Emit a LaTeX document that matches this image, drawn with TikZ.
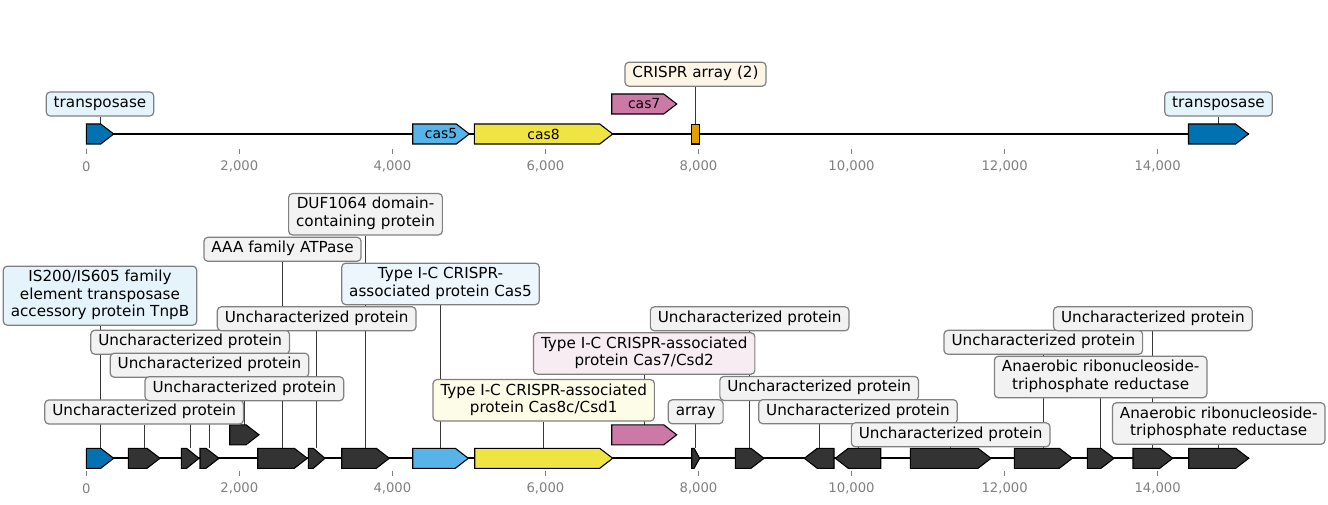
\documentclass[tikz,border=0pt]{standalone}
\usepackage{fontspec}
\setmainfont{DejaVu Sans}

\definecolor{cblue}{HTML}{0072B2}
\definecolor{csky}{HTML}{56B4E9}
\definecolor{cyellow}{HTML}{F0E442}
\definecolor{cpink}{HTML}{CC79A7}
\definecolor{corange}{HTML}{E69F00}
\definecolor{cdark}{HTML}{333333}
\definecolor{fblue}{HTML}{E5F3FB}
\definecolor{fsky}{HTML}{EDF6FD}
\definecolor{fcream}{HTML}{FDF6E6}
\definecolor{fyellow}{HTML}{FDFCE6}
\definecolor{fpink}{HTML}{F7ECF2}
\definecolor{fgrey}{HTML}{F2F2F2}
\definecolor{lblborder}{HTML}{808080}
\definecolor{tickgray}{HTML}{808080}

\newcommand\lblfont{\fontsize{15.2pt}{17.5pt}\selectfont}
\newcommand\genefont{\fontsize{13.9pt}{16pt}\selectfont}
\newcommand\tickfont{\fontsize{13.2pt}{15pt}\selectfont}

\pgfdeclarelayer{background}
\pgfsetlayers{background,main}

% forward gene: name, start, end, centre y, fill
\newcommand\fwdgene[5]{%
  \pgfmathsetmacro\genehead{min(13,0.7*(#3-#2))}%
  \filldraw[gene, fill=#5] (#2,#4-10) -- ({#3-\genehead},#4-10) -- (#3,#4)
    -- ({#3-\genehead},#4+10) -- (#2,#4+10) -- cycle;
  \coordinate (#1) at ({(#2+#3)/2},#4-10);
}
% reverse gene: name, start, end, centre y, fill
\newcommand\revgene[5]{%
  \pgfmathsetmacro\genehead{min(13,0.7*(#3-#2))}%
  \filldraw[gene, fill=#5] (#3,#4-10) -- ({#2+\genehead},#4-10) -- (#2,#4)
    -- ({#2+\genehead},#4+10) -- (#3,#4+10) -- cycle;
  \coordinate (#1) at ({(#2+#3)/2},#4-10);
}

\tikzset{
  gene/.style={draw=black, line width=1.1pt, line join=miter},
  lbl/.style={draw=lblborder, line width=1.2pt, rounded corners=4pt,
    inner xsep=7.5pt, inner ysep=3.25pt, align=center, font=\lblfont, text=black},
  greylbl/.style={lbl, fill=fgrey},
  genetxt/.style={font=\genefont, inner sep=0pt, text=black},
  tickmk/.style={draw=tickgray, line width=1pt},
  ticklbl/.style={font=\tickfont, text=tickgray, inner sep=0pt},
  conn/.style={draw=black!78, line width=0.8pt},
  axisline/.style={draw=black, line width=1.8pt},
}

\begin{document}
\begin{tikzpicture}[x=1pt,y=-1pt]
\begin{pgfonlayer}{background}
  \fill[white] (0,0) rectangle (1328,505);
\end{pgfonlayer}
\useasboundingbox (0,0) rectangle (1328,505);

% ---------------- upper map ----------------
\fwdgene{tA}{86.3}{113.7}{134}{cblue}
\fwdgene{tB}{412.7}{469.3}{134}{csky}
\fwdgene{tC}{474.3}{612.7}{134}{cyellow}
\fwdgene{tD}{611.7}{676.7}{104}{cpink}
\filldraw[gene, fill=corange] (691.7,124.3) rectangle (699.3,144);
\coordinate (tE) at (695.5,124.3);
\fwdgene{tF}{1188.5}{1248.5}{134}{cblue}

\node[genetxt] (tBt) at (441,134) {cas5};
\node[genetxt] (tCt) at (543.5,134) {cas8};
\node[genetxt] (tDt) at (644.2,104) {cas7};

\node[lbl, fill=fblue]  (LtA) at (100,104)    {\strut transposase};
\node[lbl, fill=fcream] (LtE) at (695.5,74.2) {\strut CRISPR array (2)};
\node[lbl, fill=fblue]  (LtF) at (1218.5,104) {\strut transposase};

\foreach \k/\lab in {0/0,1/{2,000},2/{4,000},3/{6,000},4/{8,000},5/{10,000},6/{12,000},7/{14,000}}{
  \draw[tickmk] (86.3+153.05*\k,149.5) -- (86.3+153.05*\k,154);
  \node[ticklbl] (ta\k) at (86.3+153.05*\k,166.5) {\lab};
}

% ---------------- lower map ----------------
\fwdgene{b1}{86.3}{113.7}{458.3}{cblue}
\fwdgene{b2}{128.3}{160}{458.3}{cdark}
\fwdgene{b3}{181.3}{199}{458.3}{cdark}
\fwdgene{b4}{200}{219}{458.3}{cdark}
\fwdgene{b5}{229.7}{259}{434.8}{cdark}
\fwdgene{b6}{257.7}{307.3}{458.3}{cdark}
\fwdgene{b7}{308.3}{325}{458.3}{cdark}
\fwdgene{b8}{341.7}{389.3}{458.3}{cdark}
\fwdgene{b9}{412.7}{468.3}{458.3}{csky}
\fwdgene{b10}{474.7}{612.7}{458.3}{cyellow}
\fwdgene{b11}{611.7}{676.7}{434.8}{cpink}
\fwdgene{b12}{691.7}{699.7}{458.3}{cdark}
\fwdgene{b13}{735.3}{764}{458.3}{cdark}
\revgene{b14}{804.3}{834}{458.3}{cdark}
\revgene{b15}{835.3}{880.7}{458.3}{cdark}
\fwdgene{b16}{910.3}{991}{458.3}{cdark}
\fwdgene{b17}{1014.3}{1072.3}{458.3}{cdark}
\fwdgene{b18}{1087.3}{1114}{458.3}{cdark}
\fwdgene{b19}{1133}{1172.7}{458.3}{cdark}
\fwdgene{b20}{1188.7}{1248.7}{458.3}{cdark}

\node[lbl, fill=fblue] (Lb1) at (100,295.7)
  {\strut IS200/IS605 family\\\strut element transposase\\\strut accessory protein TnpB};
\node[greylbl] (Lb2) at (144.15,412)   {\strut Uncharacterized protein};
\node[greylbl] (Lb3) at (190.15,342.2) {\strut Uncharacterized protein};
\node[greylbl] (Lb4) at (209.5,365.2)  {\strut Uncharacterized protein};
\node[greylbl] (Lb5) at (244.35,388.7) {\strut Uncharacterized protein};
\node[greylbl] (Lb6) at (282.5,249.3)  {\strut AAA family ATPase};
\node[greylbl] (Lb7) at (316.65,318.8) {\strut Uncharacterized protein};
\node[greylbl] (Lb8) at (365.5,214.2)  {\strut DUF1064 domain-\\\strut containing protein};
\node[lbl, fill=fsky] (Lb9) at (440.5,283.9)
  {\strut Type I-C CRISPR-\\\strut associated protein Cas5};
\node[lbl, fill=fyellow] (Lb10) at (543.7,400.3)
  {\strut Type I-C CRISPR-associated\\\strut protein Cas8c/Csd1};
\node[lbl, fill=fpink] (Lb11) at (644.2,353.5)
  {\strut Type I-C CRISPR-associated\\\strut protein Cas7/Csd2};
\node[greylbl] (Lb12) at (695.7,411.8)  {\strut array};
\node[greylbl] (Lb13) at (749.65,318.8) {\strut Uncharacterized protein};
\node[greylbl] (Lb14) at (819.15,388.4) {\strut Uncharacterized protein};
\node[greylbl] (Lb15) at (858,411.7)    {\strut Uncharacterized protein};
\node[greylbl] (Lb16) at (950.65,434.8) {\strut Uncharacterized protein};
\node[greylbl] (Lb17) at (1043.3,342.3) {\strut Uncharacterized protein};
\node[greylbl] (Lb18) at (1100.65,377)
  {\strut Anaerobic ribonucleoside-\\\strut triphosphate reductase};
\node[greylbl] (Lb19) at (1152.85,318.8) {\strut Uncharacterized protein};
\node[greylbl] (Lb20) at (1218.7,423.5)
  {\strut Anaerobic ribonucleoside-\\\strut triphosphate reductase};

\foreach \k/\lab in {0/0,1/{2,000},2/{4,000},3/{6,000},4/{8,000},5/{10,000},6/{12,000},7/{14,000}}{
  \draw[tickmk] (86.3+153.05*\k,471) -- (86.3+153.05*\k,476);
  \node[ticklbl] (tb\k) at (86.3+153.05*\k,488.3) {\lab};
}

% backbones and label leaders sit underneath genes and boxes
\begin{pgfonlayer}{background}
  \draw[axisline] (86.3,134) -- (1248.5,134);
  \draw[axisline] (86.3,458.3) -- (1248.7,458.3);
  \foreach \g in {tA,tE,tF,b1,b2,b3,b4,b5,b6,b7,b8,b9,b10,b11,b12,b13,b14,b15,b16,b17,b18,b19,b20}
    \draw[conn] (\g) -- (\g |- L\g.south);
\end{pgfonlayer}
\end{tikzpicture}
\end{document}
